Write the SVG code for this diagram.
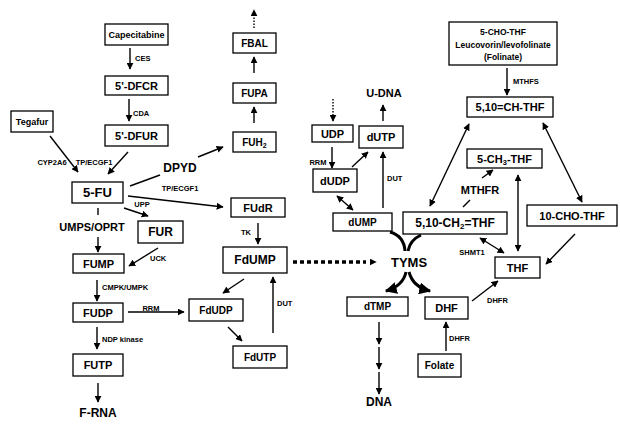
<svg xmlns="http://www.w3.org/2000/svg" width="620" height="425" viewBox="0 0 620 425">
<defs>
<marker id="ah" viewBox="0 0 10 10" refX="9" refY="5" markerWidth="7" markerHeight="7" markerUnits="userSpaceOnUse" orient="auto-start-reverse">
<path d="M0,0 L10,5 L0,10 z" fill="#000"/>
</marker>
<marker id="ahb" viewBox="0 0 10 10" refX="9" refY="5" markerWidth="4" markerHeight="4" orient="auto-start-reverse">
<path d="M0,0 L10,5 L0,10 z" fill="#000"/>
</marker>
<style>
rect{fill:#fff;stroke:#000;stroke-width:1.3}
text{font-family:"Liberation Sans",Arial,sans-serif;font-weight:bold;fill:#000;text-anchor:middle;dominant-baseline:central}
.s{font-size:7.5px}
.m{font-size:10px}
.n{font-size:11px}
.l{font-size:12px}
.x{font-size:13px}
.lbl{text-anchor:start}
#conn line,#conn path{stroke:#000;stroke-width:1.4;fill:none}
.a{marker-end:url(#ah)}
.d{marker-start:url(#ah);marker-end:url(#ah)}
.dot{stroke-dasharray:1.5,1.5}
#conn .thick{stroke-width:3.5;stroke-dasharray:4,3}
#conn .curve{stroke-width:3;marker-end:url(#ahb)}
#conn .curve0{stroke-width:3}
</style>
</defs>
<rect x="0" y="0" width="620" height="425" style="fill:#fff;stroke:none"/>

<g id="conn">
<line x1="130" y1="48" x2="130" y2="69" class="a"/>
<line x1="129" y1="99" x2="129" y2="121" class="a"/>
<line x1="50" y1="136" x2="78" y2="172" class="a"/>
<line x1="128" y1="152" x2="108" y2="174" class="a"/>
<line x1="130" y1="186" x2="160" y2="175"/>
<line x1="198" y1="157" x2="223" y2="147" class="a"/>
<line x1="128" y1="196" x2="223" y2="207" class="a"/>
<line x1="124" y1="208" x2="148" y2="216" class="a"/>
<line x1="98" y1="208" x2="98" y2="215"/>
<line x1="98" y1="237" x2="98" y2="252" class="a"/>
<line x1="158" y1="248" x2="129" y2="266" class="a"/>
<line x1="97" y1="280" x2="97" y2="301" class="a"/>
<line x1="128" y1="312" x2="184" y2="312" class="a"/>
<line x1="97" y1="327" x2="97" y2="349" class="a"/>
<line x1="98" y1="383" x2="98" y2="402" class="a"/>
<line x1="254" y1="28" x2="254" y2="10" class="a dot"/>
<line x1="254" y1="73" x2="254" y2="57" class="a"/>
<line x1="254" y1="123" x2="254" y2="107" class="a"/>
<line x1="258" y1="223" x2="258" y2="244" class="a"/>
<line x1="244" y1="279" x2="223" y2="293" class="a"/>
<line x1="228" y1="327" x2="242" y2="341" class="a"/>
<line x1="273" y1="333" x2="273" y2="277" class="a"/>
<line x1="293" y1="262" x2="366" y2="262" class="thick"/>
<path d="M364,262 L376,262" style="stroke-width:0" class="a"/>
<line x1="333" y1="99" x2="333" y2="121" class="a dot"/>
<line x1="383" y1="121" x2="383" y2="105" class="a"/>
<line x1="332" y1="147" x2="332" y2="168" class="a"/>
<line x1="352" y1="167" x2="368" y2="152" class="a"/>
<line x1="383" y1="208" x2="383" y2="152" class="a"/>
<line x1="337" y1="196" x2="353" y2="210" class="d"/>
<path d="M390,232 Q404,236 405,251" class="curve0"/>
<path d="M421,235 Q410,240 408,251" class="curve0"/>
<path d="M406,272 Q403,286 386,291" class="curve"/>
<path d="M409,272 Q413,287 430,291" class="curve"/>
<line x1="379" y1="322" x2="379" y2="344" class="a"/>
<line x1="379" y1="347" x2="379" y2="369" class="a"/>
<line x1="379" y1="372" x2="379" y2="394" class="a"/>
<line x1="446" y1="351" x2="446" y2="322" class="a"/>
<line x1="507" y1="68" x2="507" y2="95" class="a"/>
<line x1="430" y1="206" x2="469" y2="124" class="d"/>
<line x1="543" y1="123" x2="582" y2="202" class="d"/>
<line x1="463" y1="207" x2="470" y2="200"/>
<line x1="482" y1="178" x2="493" y2="170" class="a"/>
<line x1="518" y1="175" x2="518" y2="251" class="d"/>
<line x1="575" y1="234" x2="546" y2="264" class="a"/>
<line x1="480" y1="238" x2="504" y2="253" class="d"/>
<line x1="472" y1="301" x2="498" y2="281" class="a"/>
</g>

<g id="capecitabine"><rect x="105" y="24" width="63" height="21"/><text x="136.5" y="34.5" class="m" style="font-size:9px">Capecitabine</text></g>
<text x="135" y="58" class="s lbl">CES</text>
<g id="dfcr"><rect x="105" y="76" width="63" height="19"/><text x="136.5" y="85.5" class="n">5'-DFCR</text></g>
<text x="133" y="113" class="s lbl">CDA</text>
<g id="dfur"><rect x="105" y="125" width="63" height="21"/><text x="136.5" y="135.5" class="n">5'-DFUR</text></g>
<g id="tegafur"><rect x="11" y="111" width="42" height="21"/><text x="32" y="121.5" class="m" style="font-size:9px">Tegafur</text></g>
<text x="52" y="162" class="s">CYP2A6</text>
<text x="94" y="162" class="s">TP/ECGF1</text>
<g id="fu5"><rect x="72" y="182" width="51" height="21"/><text x="97.5" y="192.5" class="x">5-FU</text></g>
<text x="180" y="168" class="l">DPYD</text>
<text x="180" y="188" class="s">TP/ECGF1</text>
<text x="142" y="204" class="s">UPP</text>
<text x="92" y="227" class="n">UMPS/OPRT</text>
<g id="fur"><rect x="138" y="221" width="45" height="22"/><text x="160.5" y="232" class="l">FUR</text></g>
<text x="150" y="258" class="s lbl">UCK</text>
<g id="fump"><rect x="73" y="254" width="51" height="19"/><text x="98.5" y="263.5" class="n">FUMP</text></g>
<text x="102" y="287" class="s lbl">CMPK/UMPK</text>
<g id="fudp"><rect x="73" y="303" width="50" height="19"/><text x="98" y="312.5" class="n">FUDP</text></g>
<text x="151" y="308" class="s">RRM</text>
<text x="102" y="339" class="s lbl">NDP kinase</text>
<g id="futp"><rect x="73" y="354" width="50" height="22"/><text x="98" y="365" class="n">FUTP</text></g>
<text x="98" y="413" class="l">F-RNA</text>

<g id="fbal"><rect x="233" y="33" width="43" height="20"/><text x="254.5" y="43" class="m">FBAL</text></g>
<g id="fupa"><rect x="233" y="83" width="43" height="20"/><text x="254.5" y="93" class="m">FUPA</text></g>
<g id="fuh2"><rect x="233" y="132" width="43" height="20"/><text x="254.5" y="142" class="m">FUH<tspan style="font-size:7px" dy="3">2</tspan></text></g>
<g id="fudr"><rect x="231" y="198" width="54" height="19"/><text x="258" y="207.5" class="n">FUdR</text></g>
<text x="246" y="232" class="s">TK</text>
<g id="fdump"><rect x="223" y="247" width="64" height="26"/><text x="255" y="260" class="l">FdUMP</text></g>
<g id="fdudp"><rect x="189" y="299" width="54" height="22"/><text x="216" y="310" class="m">FdUDP</text></g>
<g id="fdutp"><rect x="233" y="346" width="54" height="22"/><text x="260" y="357" class="m">FdUTP</text></g>
<text x="277" y="303" class="s lbl">DUT</text>

<text x="384" y="93" class="n">U-DNA</text>
<g id="udp"><rect x="312" y="125" width="41" height="17"/><text x="332.5" y="133.5" class="n">UDP</text></g>
<g id="dutp"><rect x="359" y="126" width="44" height="22"/><text x="381" y="137" class="n">dUTP</text></g>
<text x="318" y="162" class="s">RRM</text>
<g id="dudp"><rect x="313" y="169" width="44" height="23"/><text x="335" y="180.5" class="n">dUDP</text></g>
<text x="387" y="178" class="s lbl">DUT</text>
<g id="dump"><rect x="333" y="213" width="59" height="18"/><text x="362.5" y="222" class="m">dUMP</text></g>
<g id="ch2thf"><rect x="403" y="212" width="104" height="22"/><text x="455" y="223" class="l">5,10-CH<tspan style="font-size:8px" dy="3">2</tspan><tspan dy="-3">=THF</tspan></text></g>
<g id="tyms"><text x="409" y="262" class="x">TYMS</text></g>
<g id="dtmp"><rect x="347" y="297" width="61" height="19"/><text x="377.5" y="306.5" class="m">dTMP</text></g>
<g id="dhf"><rect x="425" y="297" width="43" height="22"/><text x="446.5" y="308" class="n">DHF</text></g>
<text x="379" y="402" class="l">DNA</text>
<text x="449" y="338" class="s lbl">DHFR</text>
<g id="folate"><rect x="418" y="354" width="43" height="23"/><text x="439.5" y="365.5" class="m">Folate</text></g>

<g id="chothf"><rect x="449" y="22" width="108" height="43"/><text x="503" y="32" class="s" style="font-size:8.5px">5-CHO-THF</text><text x="503" y="44.5" class="s" style="font-size:8.5px">Leucovorin/levofolinate</text><text x="503" y="57" class="s" style="font-size:8.5px">(Folinate)</text></g>
<text x="513" y="81" class="s lbl">MTHFS</text>
<g id="chthf"><rect x="467" y="97" width="86" height="20"/><text x="510" y="107" class="n">5,10=CH-THF</text></g>
<g id="ch3thf"><rect x="467" y="149" width="75" height="19"/><text x="504.5" y="158.5" class="n">5-CH<tspan style="font-size:7.5px" dy="3">3</tspan><tspan dy="-3">-THF</tspan></text></g>
<text x="480" y="190" class="n">MTHFR</text>
<g id="chothf10"><rect x="527" y="205" width="90" height="21"/><text x="572" y="215.5" class="n">10-CHO-THF</text></g>
<text x="472" y="252" class="s">SHMT1</text>
<g id="thf"><rect x="495" y="257" width="45" height="21"/><text x="517.5" y="267.5" class="n">THF</text></g>
<text x="487" y="300" class="s lbl">DHFR</text>
</svg>
